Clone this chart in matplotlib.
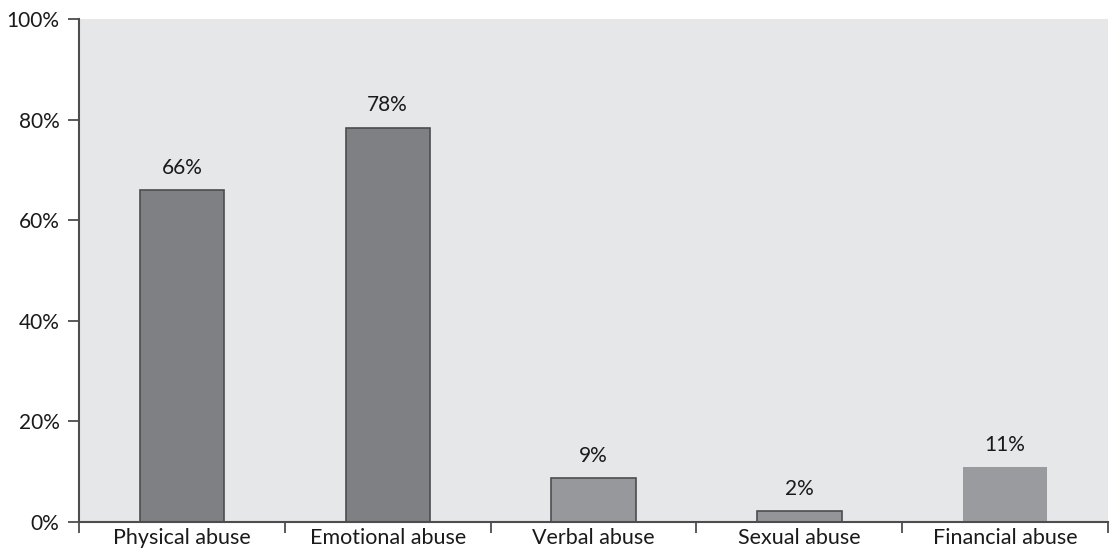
import numpy as np
import matplotlib.pyplot as plt

plt.rcParams['font.family'] = ['Lato', 'DejaVu Sans']

# data
categories = ["Physical abuse", "Emotional abuse", "Verbal abuse", "Sexual abuse", "Financial abuse"]
values = [66.0, 78.4, 8.7, 2.1, 10.9]
labels = ["66%", "78%", "9%", "2%", "11%"]
colors = ["#7f8084", "#7f8084", "#97989b", "#949598", "#9a9b9e"]
edges = ["#4d4d4f", "#4d4d4f", "#4d4d4f", "#4d4d4f", "none"]

fig = plt.figure(figsize=(11.12, 5.53), dpi=100)
ax = fig.add_axes([0.071, 0.056, 0.9255, 0.9096])
ax.set_facecolor("#e6e7e9")

x = np.arange(len(categories))
bars = ax.bar(x, values, width=0.41, color=colors, edgecolor=edges, linewidth=1.2, zorder=2)

for b, lab in zip(bars, labels):
    ax.annotate(lab, (b.get_x() + b.get_width() / 2, b.get_height()),
                xytext=(0, 9), textcoords="offset points",
                ha="center", va="bottom", fontsize=15, color="#1a1a1a")

ax.set_xlim(-0.5, len(categories) - 0.5)
ax.set_ylim(0, 100)
ax.set_yticks(np.arange(0, 101, 20))
ax.set_yticklabels(["%d%%" % v for v in range(0, 101, 20)], fontsize=15, color="#1a1a1a")

ax.set_xticks(x)
ax.set_xticklabels(categories, fontsize=15.5, color="#1a1a1a")
ax.tick_params(axis="x", which="major", length=0, pad=4)
ax.set_xticks(np.arange(-0.5, len(categories)), minor=True)
ax.tick_params(axis="x", which="minor", length=8, width=1.3, color="#4d4d4f")
ax.tick_params(axis="y", length=8, width=1.3, color="#4d4d4f", pad=6)

for side in ["top", "right"]:
    ax.spines[side].set_visible(False)
for side in ["left", "bottom"]:
    ax.spines[side].set_color("#4d4d4f")
    ax.spines[side].set_linewidth(1.5)

fig.savefig("out.png", dpi=100)
